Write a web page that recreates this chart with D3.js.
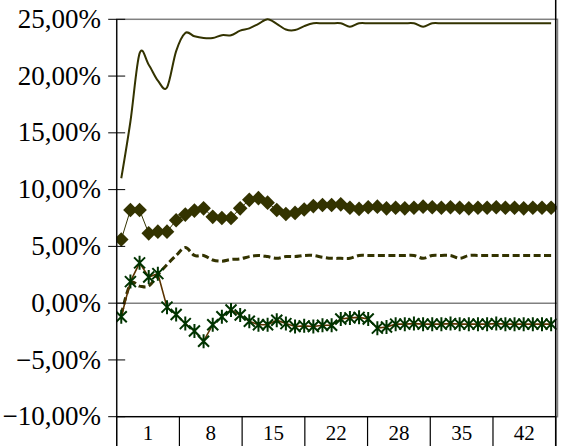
<!DOCTYPE html>
<html>
<head>
<meta charset="utf-8">
<script src="https://cdn.jsdelivr.net/npm/d3@7"></script>
<style>
html,body{margin:0;padding:0;background:#fff;}
svg{display:block;}
</style>
</head>
<body>
<svg id="chart" width="584" height="446"></svg>
<script>
const categories = [1,2,3,4,5,6,7,8,9,10,11,12,13,14,15,16,17,18,19,20,21,22,23,24,25,26,27,28,29,30,31,32,33,34,35,36,37,38,39,40,41,42,43,44,45,46,47,48];
const tickLabels = ["1","8","15","22","28","35","42"];
const yTicks = [-10,-5,0,5,10,15,20,25];

const seriesSolid = [11.0,16.0,22.0,21.0,19.6,19.0,22.2,23.8,23.5,23.35,23.35,23.6,23.6,24.0,24.2,24.6,25.0,24.6,24.1,24.05,24.4,24.65,24.65,24.65,24.65,24.35,24.65,24.65,24.65,24.65,24.65,24.65,24.65,24.35,24.65,24.65,24.65,24.65,24.65,24.65,24.65,24.65,24.65,24.65,24.65,24.65,24.65,24.65];
const seriesDiamond = [5.6,8.2,8.2,6.15,6.3,6.3,7.3,7.8,8.15,8.35,7.6,7.5,7.5,8.35,9.1,9.25,8.85,8.2,7.85,7.95,8.25,8.55,8.65,8.65,8.7,8.4,8.3,8.45,8.5,8.35,8.4,8.35,8.4,8.5,8.45,8.4,8.45,8.4,8.35,8.4,8.4,8.45,8.4,8.4,8.35,8.4,8.4,8.4];
const seriesDashed = [-1.0,1.7,1.5,1.5,2.5,3.4,4.2,4.9,4.2,4.2,3.8,3.7,3.85,3.9,4.1,4.2,4.1,3.95,4.1,4.1,4.2,4.2,4.05,3.95,3.95,3.95,4.2,4.2,4.2,4.2,4.2,4.2,4.2,3.95,4.2,4.2,4.2,3.95,4.2,4.2,4.2,4.2,4.2,4.2,4.2,4.2,4.2,4.2];
const seriesStar = [-1.2,1.9,3.55,2.3,2.6,-0.35,-1.0,-1.8,-2.45,-3.35,-1.9,-1.2,-0.6,-1.05,-1.6,-1.9,-1.9,-1.5,-1.8,-2.05,-2.0,-2.05,-1.95,-1.95,-1.4,-1.3,-1.25,-1.4,-2.2,-2.1,-1.85,-1.85,-1.8,-1.85,-1.85,-1.85,-1.8,-1.85,-1.85,-1.85,-1.85,-1.8,-1.85,-1.85,-1.85,-1.85,-1.85,-1.85];

const svg = d3.select("#chart");
const L = 116.7, R = 555.7, T = 19.3, B = 416.7;

const x = d3.scaleBand().domain(categories).range([L, R]).padding(0);
const xg = d3.scaleBand().domain(tickLabels).range([L, R]).padding(0);
const y = d3.scaleLinear().domain([-10, 25]).range([B, T]);
const cx = d => x(d) + x.bandwidth() / 2;

// plot area border (gray)
svg.append("rect").attr("x", L).attr("y", T).attr("width", R - L + 1.8).attr("height", B - T)
  .attr("fill", "none").attr("stroke", "#808080").attr("stroke-width", 1.5);

// zero line
svg.append("line").attr("x1", L).attr("x2", R + 1).attr("y1", y(0)).attr("y2", y(0))
  .attr("stroke", "#808080").attr("stroke-width", 1.5);

svg.append("clipPath").attr("id", "pc").append("rect")
  .attr("x", L).attr("y", 0).attr("width", R - L + 1).attr("height", B);

const g = svg.append("g").attr("clip-path", "url(#pc)");

const curve = d3.curveCardinal.tension(0);
const line = d3.line().x((d, i) => cx(categories[i])).y(d => y(d)).curve(curve);
const lineStraight = d3.line().x((d, i) => cx(categories[i])).y(d => y(d));

// solid line
g.append("path").attr("d", line(seriesSolid)).attr("fill", "none")
  .attr("stroke", "#333300").attr("stroke-width", 2);

// diamond series
g.append("path").attr("d", lineStraight(seriesDiamond)).attr("fill", "none")
  .attr("stroke", "#333300").attr("stroke-width", 1);
g.selectAll(".dm").data(seriesDiamond).enter().append("path")
  .attr("transform", (d, i) => `translate(${cx(categories[i])},${y(d)})`)
  .attr("d", "M0,-7.3L7.3,0L0,7.3L-7.3,0Z").attr("fill", "#333300");

// dashed series
g.append("path").attr("d", line(seriesDashed)).attr("fill", "none")
  .attr("stroke", "#333300").attr("stroke-width", 3).attr("stroke-dasharray", "7,3.5");

// star series
g.append("path").attr("d", lineStraight(seriesStar)).attr("fill", "none")
  .attr("stroke", "#5a3300").attr("stroke-width", 1.6);
g.selectAll(".st").data(seriesStar).enter().append("path")
  .attr("transform", (d, i) => `translate(${cx(categories[i])},${y(d)})`)
  .attr("d", "M-5.5,-5.5L5.5,5.5M-5.5,5.5L5.5,-5.5M0,-7L0,7").attr("fill", "none")
  .attr("stroke", "#003300").attr("stroke-width", 2);

// y axis
svg.append("line").attr("x1", L).attr("x2", L).attr("y1", T).attr("y2", 446)
  .attr("stroke", "#000").attr("stroke-width", 1.2);
const ya = svg.append("g");
ya.selectAll("line").data(yTicks).enter().append("line")
  .attr("x1", L - 8.5).attr("x2", L + 8.5).attr("y1", d => y(d)).attr("y2", d => y(d))
  .attr("stroke", "#000").attr("stroke-width", 1);
ya.selectAll("text").data(yTicks).enter().append("text")
  .attr("x", 101).attr("y", d => y(d)).attr("dy", "0.32em")
  .attr("text-anchor", "end")
  .attr("font-family", "'Liberation Serif', 'Times New Roman', serif").attr("font-size", 27)
  .text(d => d3.format(".2f")(d).replace(".", ",") + "%");

// x axis
svg.append("line").attr("x1", L).attr("x2", R).attr("y1", B).attr("y2", B)
  .attr("stroke", "#000").attr("stroke-width", 1.2);
const bounds = tickLabels.map(t => xg(t)).concat([R]);
svg.selectAll(".xt").data(bounds).enter().append("line")
  .attr("x1", d => d).attr("x2", d => d).attr("y1", B).attr("y2", 446)
  .attr("stroke", "#000").attr("stroke-width", 1.2);
svg.selectAll(".xl").data(tickLabels).enter().append("text")
  .attr("x", d => xg(d) + xg.bandwidth() / 2).attr("y", 440)
  .attr("text-anchor", "middle")
  .attr("font-family", "'Liberation Serif', 'Times New Roman', serif").attr("font-size", 21)
  .text(d => d);

// right frame line
svg.append("line").attr("x1", R).attr("x2", R).attr("y1", 0).attr("y2", 446)
  .attr("stroke", "#000").attr("stroke-width", 1.5);
</script>
</body>
</html>
